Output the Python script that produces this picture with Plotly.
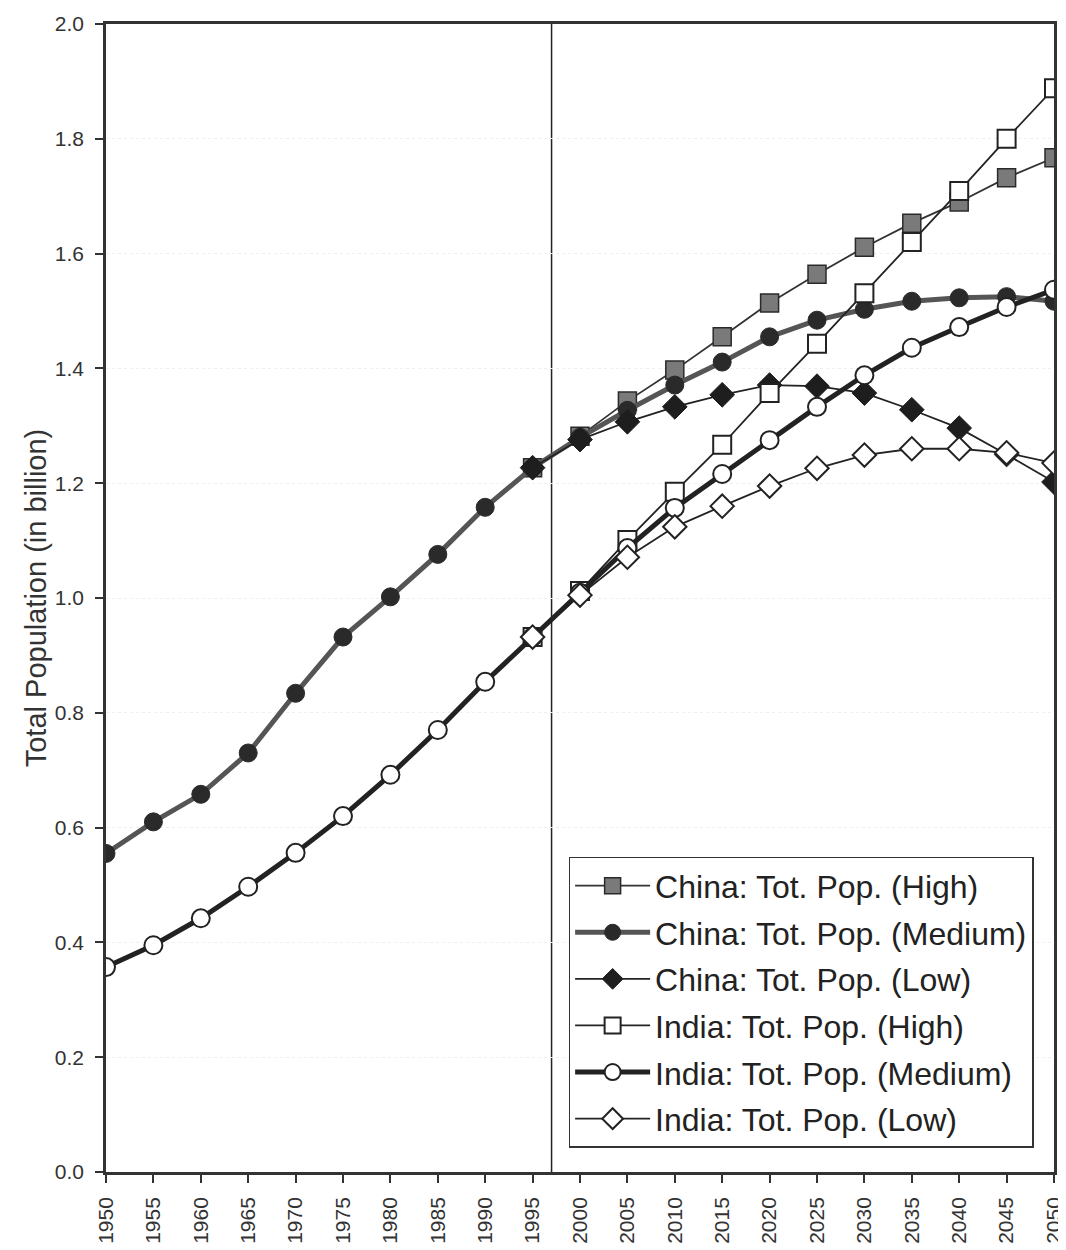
import plotly.graph_objects as go

years_hist = [1950, 1955, 1960, 1965, 1970, 1975, 1980, 1985, 1990, 1995]
years_proj = [1995, 2000, 2005, 2010, 2015, 2020, 2025, 2030, 2035, 2040, 2045, 2050]
years_all = years_hist + years_proj[1:]

china_medium = [0.555, 0.610, 0.658, 0.730, 0.834, 0.932, 1.002, 1.076, 1.158, 1.227,
                1.280, 1.327, 1.371, 1.411, 1.455, 1.484, 1.503, 1.517, 1.523, 1.525, 1.517]
china_high = [1.227, 1.282, 1.343, 1.397, 1.455, 1.514, 1.564, 1.611, 1.653, 1.690, 1.732, 1.767]
china_low = [1.227, 1.276, 1.307, 1.333, 1.354, 1.371, 1.369, 1.357, 1.328, 1.296, 1.250, 1.202]

india_medium = [0.357, 0.395, 0.442, 0.497, 0.556, 0.620, 0.692, 0.770, 0.854, 0.932,
                1.009, 1.087, 1.157, 1.216, 1.275, 1.333, 1.388, 1.436, 1.472, 1.507, 1.537]
india_high = [0.932, 1.012, 1.101, 1.185, 1.267, 1.357, 1.443, 1.531, 1.620, 1.709, 1.800, 1.888]
india_low = [0.932, 1.005, 1.071, 1.124, 1.160, 1.195, 1.226, 1.249, 1.260, 1.260, 1.253, 1.235]

BASE_YEAR = 1997
x_ticks = list(range(1950, 2051, 5))
y_ticks = [0.0, 0.2, 0.4, 0.6, 0.8, 1.0, 1.2, 1.4, 1.6, 1.8, 2.0]

FONT = "Arial, Liberation Sans, Helvetica, sans-serif"

fig = go.Figure()

series = [
    ("China: Tot. Pop. (High)", years_proj, china_high,
     dict(color="#333333", width=1.8), dict(symbol="square", size=18, color="#7a7a7a", line=dict(color="#2a2a2a", width=1.5))),
    ("China: Tot. Pop. (Medium)", years_all, china_medium,
     dict(color="#555555", width=5), dict(symbol="circle", size=18, color="#2a2a2a", line=dict(color="#2a2a2a", width=1))),
    ("China: Tot. Pop. (Low)", years_proj, china_low,
     dict(color="#222222", width=1.8), dict(symbol="diamond", size=19, color="#1e1e1e", line=dict(color="#1e1e1e", width=1))),
    ("India: Tot. Pop. (High)", years_proj, india_high,
     dict(color="#222222", width=1.8), dict(symbol="square", size=18, color="white", line=dict(color="#222222", width=2))),
    ("India: Tot. Pop. (Medium)", years_all, india_medium,
     dict(color="#222222", width=5), dict(symbol="circle", size=18, color="white", line=dict(color="#222222", width=2))),
    ("India: Tot. Pop. (Low)", years_proj, india_low,
     dict(color="#222222", width=1.8), dict(symbol="diamond", size=18, color="white", line=dict(color="#222222", width=2))),
]

for i, (name, xs, ys, ln, mk) in enumerate(series):
    fig.add_trace(go.Scatter(x=xs, y=ys, name=name, mode="lines+markers",
                             line=ln, marker=mk, legendgroup=f"g{i}"))

fig.add_shape(type="line", xref="x", yref="paper", x0=BASE_YEAR, x1=BASE_YEAR, y0=0, y1=1,
              line=dict(color="#222222", width=1.5), layer="below")

# page body has an 8px margin, so the figure is sized/offset to compensate
fig.update_layout(
    width=1058, height=1242,
    margin=dict(l=98, r=12, t=16, b=78),
    paper_bgcolor="white", plot_bgcolor="white",
    font=dict(family=FONT, color="#333333", size=21),
    showlegend=True,
    legend=dict(
        x=0.488, y=0.2745, xanchor="left", yanchor="top",
        bgcolor="white", bordercolor="#333333", borderwidth=1.5,
        font=dict(size=32, color="#222222", family=FONT),
        traceorder="grouped", tracegroupgap=2, itemwidth=75,
    ),
)

fig.update_xaxes(
    range=[1950, 2050], tickmode="array", tickvals=x_ticks, ticktext=[str(t) for t in x_ticks],
    tickangle=-90, ticks="outside", ticklen=8, tickwidth=1.5, tickcolor="#333333",
    showline=True, linecolor="#333333", linewidth=2.5, mirror=True, automargin=False,
    showgrid=False, zeroline=False, tickfont=dict(size=21, color="#333333"),
    ticklabelstandoff=6, ticklabeloverflow="allow",
)
fig.update_yaxes(
    range=[0, 2.0], tickmode="array", tickvals=y_ticks, ticktext=[f"{v:.1f}" for v in y_ticks],
    ticks="outside", ticklen=8, tickwidth=1.5, tickcolor="#333333",
    showline=True, linecolor="#333333", linewidth=2.5, mirror=True, automargin=False,
    showgrid=True, gridcolor="#efefef", griddash="dot", gridwidth=1, zeroline=False,
    tickfont=dict(size=21, color="#333333"), ticklabelstandoff=7, ticklabeloverflow="allow",
    title=dict(text="Total Population (in billion)", font=dict(size=29, color="#333333"), standoff=0),
)

fig.write_html("out.html")
